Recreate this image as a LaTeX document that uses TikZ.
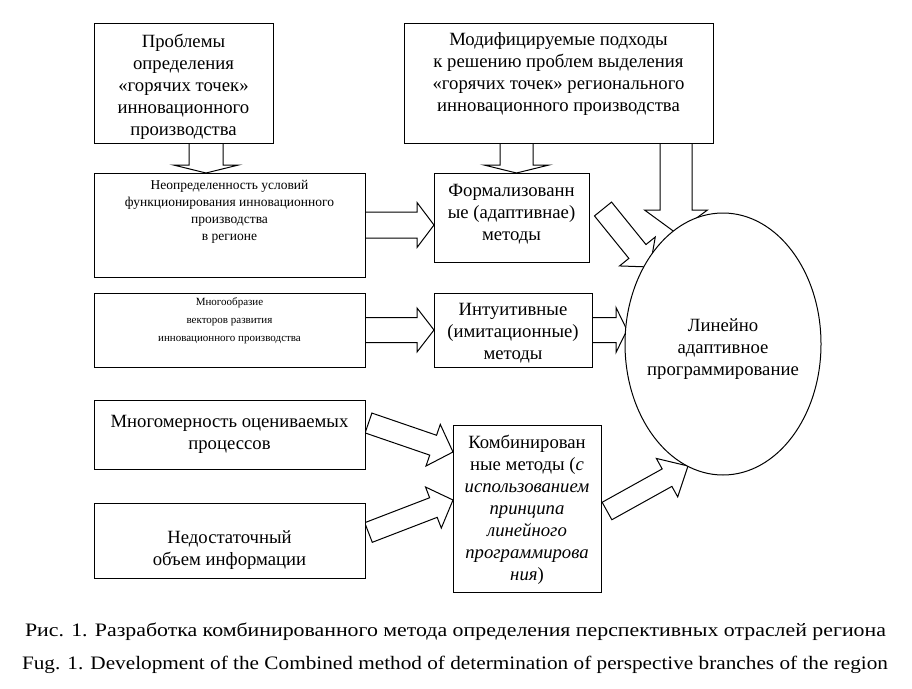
\documentclass[tikz,border=0pt]{standalone}
\usepackage{fontspec}
\setmainfont{Liberation Serif}
\newfontfamily\capfont{Liberation Serif}
\usetikzlibrary{calc}
\tikzset{
  x=1pt, y=-1pt,
  box/.style={draw, line width=1pt, fill=white, inner sep=0pt},
  barrow/.style={draw, line width=1pt, fill=white, line join=miter},
  bigtext/.style={font=\fontsize{18.7}{22}\selectfont, align=center, inner sep=0pt},
  smalltext/.style={font=\fontsize{13.5}{17}\selectfont, align=center, inner sep=0pt},
  tinytext/.style={font=\fontsize{11}{18}\selectfont, align=center, inner sep=0pt},
  captext/.style={font=\capfont\fontsize{19}{22}\selectfont, inner sep=0pt},
}
% box by corners: name, x1, y1, x2, y2
\newcommand\mkbox[5]{\node[box, anchor=north west,
  minimum width=\fpeval{#4-#2}pt, minimum height=\fpeval{#5-#3}pt] (#1) at (#2,#3) {};}
% hollow block arrow: tail, tip, shaft half width, head half width, head length
\newcommand\blockarrow[5]{%
  \coordinate (ba-m) at ($(#2)!#5pt!(#1)$);
  \draw[barrow] ($(#1)!#3pt!90:(#2)$) -- ($(ba-m)!#3pt!-90:(#1)$) -- ($(ba-m)!#4pt!-90:(#1)$)
     -- (#2) -- ($(ba-m)!#4pt!90:(#1)$) -- ($(ba-m)!#3pt!90:(#1)$) -- ($(#1)!#3pt!-90:(#2)$) -- cycle;}
\begin{document}
\begin{tikzpicture}
\useasboundingbox (0,0) rectangle (912,688);
\fill[white] (0,0) rectangle (912,688);

% arrow end points
\coordinate (a1s) at (206,143);   \coordinate (a1e) at (206,173);
\coordinate (a2s) at (516.5,143); \coordinate (a2e) at (516.5,173);
\coordinate (a3s) at (676,143);   \coordinate (a3e) at (676,233);
\coordinate (a4s) at (365,225);   \coordinate (a4e) at (434,225);
\coordinate (a5s) at (603,209);   \coordinate (a5e) at (650,267);
\coordinate (a6s) at (365,330);   \coordinate (a6e) at (434,330);
\coordinate (a7s) at (592,330);   \coordinate (a7e) at (627,330);
\coordinate (a8s) at (368.5,423); \coordinate (a8e) at (453,452);
\coordinate (a9s) at (368.5,532.5); \coordinate (a9e) at (453,500);
\coordinate (a10s) at (607,511);  \coordinate (a10e) at (688,466);

\blockarrow{a1s}{a1e}{17}{32.5}{8}
\blockarrow{a2s}{a2e}{16.5}{32.5}{8}
\blockarrow{a3s}{a3e}{16}{31.5}{23}
\blockarrow{a4s}{a4e}{13}{22.5}{17}
\blockarrow{a5s}{a5e}{11}{23}{20}
\blockarrow{a6s}{a6e}{12.5}{22}{17}
\blockarrow{a7s}{a7e}{12.5}{22.5}{11}
\blockarrow{a8s}{a8e}{10.5}{22}{21}
\blockarrow{a9s}{a9e}{10.5}{22}{21}
\blockarrow{a10s}{a10e}{10}{22}{24}

% boxes
\mkbox{A}{94}{23}{273}{143}
\mkbox{D}{404}{23}{713}{143}
\mkbox{B}{94}{173}{365}{277}
\mkbox{C}{434}{173}{589}{262}
\mkbox{E}{94}{293}{365}{367}
\mkbox{F}{434}{293}{592}{367}
\mkbox{G}{94}{400}{365}{469}
\mkbox{H}{94}{503}{365}{578}
\mkbox{I}{453}{425}{601}{592}

% ellipse
\draw[line width=1pt, fill=white] (723,344) ellipse [x radius=98, y radius=131];
\node[bigtext] (Lt) at (723,349) {Линейно\\адаптивное\\программирование};

% texts
\node[bigtext] (At) at (183.5,87) {Проблемы\\определения\\«горячих точек»\\инновационного\\производства};
\node[bigtext] (Dt) at (558.5,74) {Модифицируемые подходы\\к решению проблем выделения\\«горячих точек» регионального\\инновационного производства};
\node[smalltext] (Bt) at (229.5,212) {Неопределенность условий\\функционирования инновационного\\производства\\в регионе};
\node[bigtext] (Ct) at (511.5,214) {Формализованн\\ые (адаптивнае)\\методы};
\node[tinytext] (Et) at (229.5,321) {Многообразие\\векторов развития\\инновационного производства};
\node[bigtext] (Ft) at (513,333) {Интуитивные\\(имитационные)\\методы};
\node[bigtext] (Gt) at (229.5,434) {Многомерность оцениваемых\\процессов};
\node[bigtext] (Ht) at (229.5,550) {Недостаточный\\объем информации};
\node[bigtext] (It) at (527,510) {Комбинирован\\ные методы (\textit{с}\\\textit{использованием}\\\textit{принципа}\\\textit{линейного}\\\textit{программирова}\\\textit{ния})};

% captions
\node[captext] (cap1) at (455.5,632) {\resizebox{861pt}{\height}{Рис. 1. Разработка комбинированного метода определения перспективных отраслей региона}};
\node[captext] (cap2) at (455,665) {\resizebox{866pt}{\height}{Fug. 1. Development of the Combined method of determination of perspective branches of the region}};
\end{tikzpicture}
\end{document}
